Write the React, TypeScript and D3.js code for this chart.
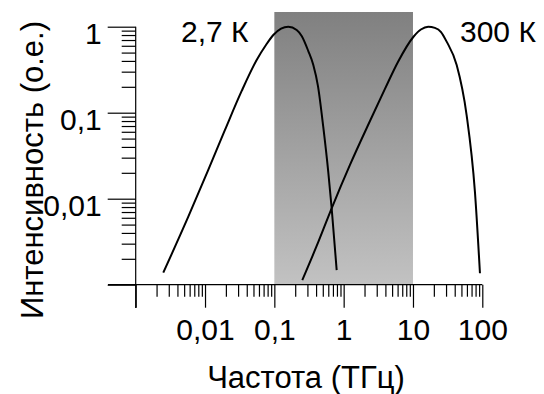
import { useEffect, useRef } from 'react'
import * as d3 from 'd3'

// readings from the reference (frequency in THz, intensity in arb. units)
const cmbFreq = [0.0025, 0.00574, 0.01114, 0.0194, 0.0338, 0.0556, 0.0757, 0.0966, 0.125, 0.159, 0.21, 0.248, 0.309, 0.365, 0.426, 0.508, 0.6, 0.671, 0.793]
const cmbInt = [0.00138, 0.00618, 0.0216, 0.063, 0.179, 0.41, 0.612, 0.8, 0.95, 1.0, 0.916, 0.78, 0.521, 0.359, 0.204, 0.0683, 0.0204, 0.0078, 0.00148]

const roomFreq = [0.253, 0.408, 0.671, 1.233, 2.396, 3.94, 6.07, 10.1, 13.0, 16.6, 20.7, 25.4, 30.6, 42.7, 59.4, 78.3, 92.5]
const roomInt = [0.00113, 0.00282, 0.00773, 0.0247, 0.08, 0.189, 0.389, 0.759, 0.927, 1.0, 0.97, 0.867, 0.67, 0.359, 0.094, 0.012, 0.00136]

const xMajor = [0.001, 0.01, 0.1, 1, 10, 100]
const xLabels = ['', '0,01', '0,1', '1', '10', '100']
const yMajor = [0.001, 0.01, 0.1, 1]
const yLabels = ['', '0,01', '0,1', '1']
const bandRange = [0.1, 10]

const curveLabels = ['2,7 К', '300 К']

const minorTicks = (majors: number[]) => {
  const out: number[] = []
  majors.slice(0, -1).forEach((m) => {
    for (let k = 2; k <= 9; k++) out.push(m * k)
  })
  return out
}

export default function App() {
  const svgRef = useRef<SVGSVGElement>(null)

  useEffect(() => {
    if (!svgRef.current) return
    const svg = d3.select(svgRef.current)
    svg.selectAll('*').remove()

    const font = '"Liberation Sans", Arial, sans-serif'

    const x = d3.scaleLog().domain([0.001, 100]).range([135.7, 482.3])
    const y = d3.scaleLog().domain([0.001, 1]).range([284.7, 26.7])

    // gradient band
    const defs = svg.append('defs')
    const grad = defs
      .append('linearGradient')
      .attr('id', 'band')
      .attr('x1', 0)
      .attr('y1', 0)
      .attr('x2', 0)
      .attr('y2', 1)
    grad.append('stop').attr('offset', '0%').attr('stop-color', '#808080')
    grad.append('stop').attr('offset', '100%').attr('stop-color', '#c2c2c2')

    svg
      .append('rect')
      .attr('x', x(bandRange[0]))
      .attr('y', 12)
      .attr('width', x(bandRange[1]) - x(bandRange[0]))
      .attr('height', y(0.001) - 12)
      .attr('fill', 'url(#band)')

    // x axis
    const xMinorAxis = d3
      .axisBottom(x)
      .tickValues(minorTicks(xMajor))
      .tickSize(12)
      .tickSizeOuter(0)
      .tickFormat(() => '')
    const xMajorAxis = d3
      .axisBottom(x)
      .tickValues(xMajor)
      .tickSize(23)
      .tickSizeOuter(0)
      .tickPadding(11)
      .tickFormat((_, i) => xLabels[i])

    const gx = svg.append('g').attr('transform', `translate(0,${y(0.001)})`)
    gx.append('g').call(xMinorAxis)
    gx.append('g').call(xMajorAxis)
    gx.selectAll('.domain').remove()
    gx.append('line')
      .attr('x1', 108)
      .attr('x2', x(100))
      .attr('stroke', '#000')
    gx.selectAll('line').attr('stroke', '#000').attr('stroke-width', 1.2)
    gx.selectAll('text')
      .attr('font-family', font)
      .attr('font-size', 30)
      .attr('fill', '#000')

    // y axis
    const yMinorAxis = d3
      .axisLeft(y)
      .tickValues(minorTicks(yMajor))
      .tickSize(14)
      .tickSizeOuter(0)
      .tickFormat(() => '')
    const yMajorAxis = d3
      .axisLeft(y)
      .tickValues(yMajor)
      .tickSize(28)
      .tickSizeOuter(0)
      .tickPadding(6)
      .tickFormat((_, i) => yLabels[i])

    const gy = svg.append('g').attr('transform', `translate(${x(0.001)},0)`)
    gy.append('g').call(yMinorAxis)
    gy.append('g').call(yMajorAxis)
    gy.selectAll('.domain').remove()
    gy.append('line')
      .attr('y1', y(1))
      .attr('y2', 308)
      .attr('stroke', '#000')
    gy.selectAll('line').attr('stroke', '#000').attr('stroke-width', 1.2)
    gy.selectAll('text')
      .attr('font-family', font)
      .attr('font-size', 30)
      .attr('fill', '#000')
      .attr('dy', '0.55em')

    // curves
    const line = d3
      .line<[number, number]>()
      .x((d) => x(d[0]))
      .y((d) => y(d[1]))
      .curve(d3.curveMonotoneX)

    const series = [
      cmbFreq.map((f, i) => [f, cmbInt[i]] as [number, number]),
      roomFreq.map((f, i) => [f, roomInt[i]] as [number, number]),
    ]
    series.forEach((s) => {
      svg
        .append('path')
        .datum(s)
        .attr('fill', 'none')
        .attr('stroke', '#000')
        .attr('stroke-width', 2)
        .attr('d', line)
    })

    // curve labels
    svg
      .append('text')
      .attr('x', 181)
      .attr('y', 42)
      .attr('font-family', font)
      .attr('font-size', 30)
      .text(curveLabels[0])
    svg
      .append('text')
      .attr('x', 460)
      .attr('y', 42)
      .attr('font-family', font)
      .attr('font-size', 30)
      .text(curveLabels[1])

    // axis titles
    svg
      .append('text')
      .attr('x', 306)
      .attr('y', 388)
      .attr('text-anchor', 'middle')
      .attr('font-family', font)
      .attr('font-size', 31)
      .text('Частота (ТГц)')

    svg
      .append('text')
      .attr('transform', `translate(43,170) rotate(-90)`)
      .attr('text-anchor', 'middle')
      .attr('font-family', font)
      .attr('font-size', 31)
      .text('Интенсивность (о.е.)')
  }, [])

  return (
    <svg
      ref={svgRef}
      width={544}
      height={394}
      style={{ position: 'absolute', left: 0, top: 0, background: '#fff' }}
    ></svg>
  )
}
